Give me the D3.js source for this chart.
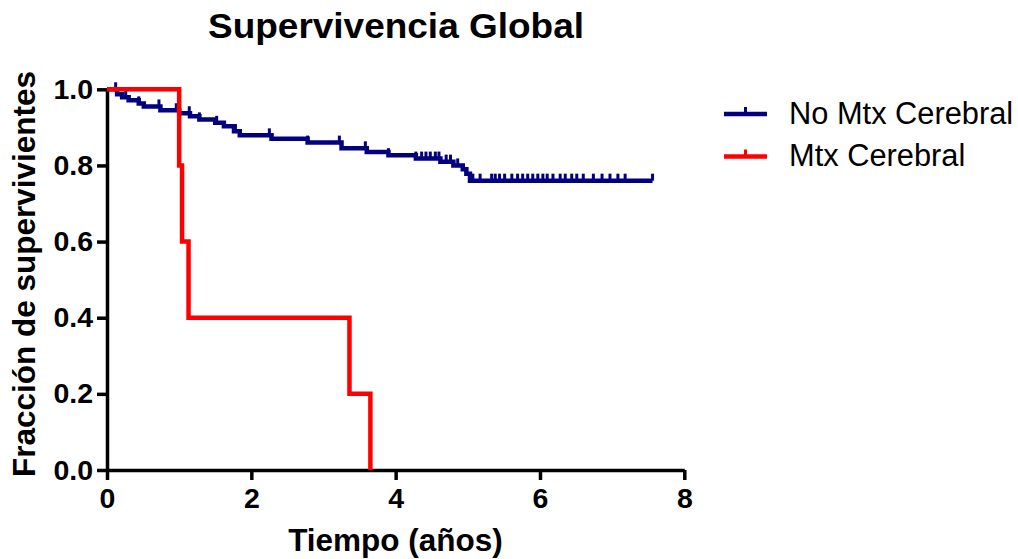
<!DOCTYPE html>
<html>
<head>
<meta charset="utf-8">
<script src="https://cdn.jsdelivr.net/npm/d3@7"></script>
<style>
  body { margin: 0; background: #fff; }
  text { font-family: 'Liberation Sans', Arial, sans-serif; }
</style>
</head>
<body>
<svg id="chart"></svg>
<script>
// data
const noMtxTimes = [0, 0.14, 0.21, 0.30, 0.44, 0.51, 0.74, 1.00, 1.15, 1.28, 1.50, 1.62, 1.76, 1.84, 2.28, 2.78, 3.25, 3.60, 3.90, 4.28, 4.62, 4.80, 4.93, 4.98, 5.03, 7.56];
const noMtxSurv = [1.0, 0.987, 0.979, 0.971, 0.963, 0.955, 0.945, 0.937, 0.929, 0.921, 0.912, 0.903, 0.890, 0.879, 0.870, 0.860, 0.845, 0.835, 0.827, 0.818, 0.810, 0.800, 0.790, 0.778, 0.760, 0.760];
const noMtxCensored = [0.12, 0.26, 0.44, 0.72, 0.96, 1.14, 1.28, 1.52, 1.78, 2.25, 2.78, 3.22, 3.58, 3.90, 4.28, 4.36, 4.42, 4.48, 4.55, 4.60, 4.70, 4.76, 4.86,
  5.07, 5.17, 5.33, 5.38, 5.44, 5.51, 5.61, 5.69, 5.76, 5.83, 5.90, 5.97, 6.04, 6.10, 6.18, 6.28, 6.35, 6.44, 6.51, 6.60, 6.74, 6.86, 6.97, 7.08, 7.18, 7.56];

const mtxTimes = [0, 1.0, 1.04, 1.13, 3.36, 3.65];
const mtxSurv = [1.0, 0.8, 0.6, 0.4, 0.2, 0.0];

const xTicks = [0, 2, 4, 6, 8];
const yTicks = [0, 0.2, 0.4, 0.6, 0.8, 1.0];
const seriesNames = ['No Mtx Cerebral', 'Mtx Cerebral'];
const seriesColors = ['#000080', '#ff0000'];

const width = 1018, height = 559;
const svg = d3.select('#chart').attr('width', width).attr('height', height);
svg.append('rect').attr('width', width).attr('height', height).attr('fill', '#fff');

const x = d3.scaleLinear().domain([0, 8]).range([107, 684.3]);
const y = d3.scaleLinear().domain([0, 1]).range([470, 89.3]);

// axes
const xAxis = svg.append('g')
  .attr('transform', `translate(0, ${y(0)})`)
  .call(d3.axisBottom(x).tickValues(xTicks).tickSize(10).tickSizeOuter(0).tickPadding(8).tickFormat(d3.format('d')));
const yAxis = svg.append('g')
  .attr('transform', `translate(${x(0)}, 0)`)
  .call(d3.axisLeft(y).tickValues(yTicks).tickSize(10).tickSizeOuter(0).tickPadding(4).tickFormat(d3.format('.1f')));

[xAxis, yAxis].forEach(a => {
  a.select('.domain').attr('stroke', '#000').attr('stroke-width', 3.5);
  a.selectAll('.tick line').attr('stroke', '#000').attr('stroke-width', 3.5);
  a.selectAll('.tick text')
    .attr('fill', '#000')
    .style('font-size', '28.5px')
    .style('font-weight', 'bold')
    .style('font-family', "'Liberation Sans', Arial, sans-serif");
});

// survival curves
const line = d3.line().x(d => x(d[0])).y(d => y(d[1])).curve(d3.curveStepAfter);
const noMtx = d3.zip(noMtxTimes, noMtxSurv);
const mtx = d3.zip(mtxTimes, mtxSurv);

svg.append('path')
  .datum(noMtx)
  .attr('d', line)
  .attr('fill', 'none')
  .attr('stroke', seriesColors[0])
  .attr('stroke-width', 4.5);

const survAt = t => noMtxSurv[Math.max(0, d3.bisectRight(noMtxTimes, t) - 1)];
svg.append('g')
  .selectAll('line')
  .data(noMtxCensored)
  .join('line')
  .attr('x1', d => x(d))
  .attr('x2', d => x(d))
  .attr('y1', d => y(survAt(d)))
  .attr('y2', d => y(survAt(d)) - 7)
  .attr('stroke', seriesColors[0])
  .attr('stroke-width', 3);

svg.append('path')
  .datum(mtx)
  .attr('d', line)
  .attr('fill', 'none')
  .attr('stroke', seriesColors[1])
  .attr('stroke-width', 4.5);

// titles
svg.append('text')
  .attr('x', 396)
  .attr('y', 37.5)
  .attr('text-anchor', 'middle')
  .attr('font-size', 35)
  .attr('font-weight', 'bold')
  .attr('textLength', 376)
  .attr('lengthAdjust', 'spacingAndGlyphs')
  .text('Supervivencia Global');

svg.append('text')
  .attr('x', 395.5)
  .attr('y', 551)
  .attr('text-anchor', 'middle')
  .attr('font-size', 31.5)
  .attr('font-weight', 'bold')
  .text('Tiempo (años)');

svg.append('text')
  .attr('transform', 'translate(35, 274) rotate(-90)')
  .attr('text-anchor', 'middle')
  .attr('font-size', 31.5)
  .attr('font-weight', 'bold')
  .text('Fracción de supervivientes');

// legend
const legend = svg.append('g');
seriesNames.forEach((name, i) => {
  const ly = 114 + i * 42.5;
  legend.append('line')
    .attr('x1', 724).attr('x2', 767).attr('y1', ly).attr('y2', ly)
    .attr('stroke', seriesColors[i]).attr('stroke-width', 4.5);
  legend.append('line')
    .attr('x1', 745.5).attr('x2', 745.5).attr('y1', ly).attr('y2', ly - 7)
    .attr('stroke', seriesColors[i]).attr('stroke-width', 3);
  legend.append('text')
    .attr('x', 789).attr('y', ly + 9.5)
    .attr('font-size', 30.8)
    .text(name);
});
</script>
</body>
</html>
